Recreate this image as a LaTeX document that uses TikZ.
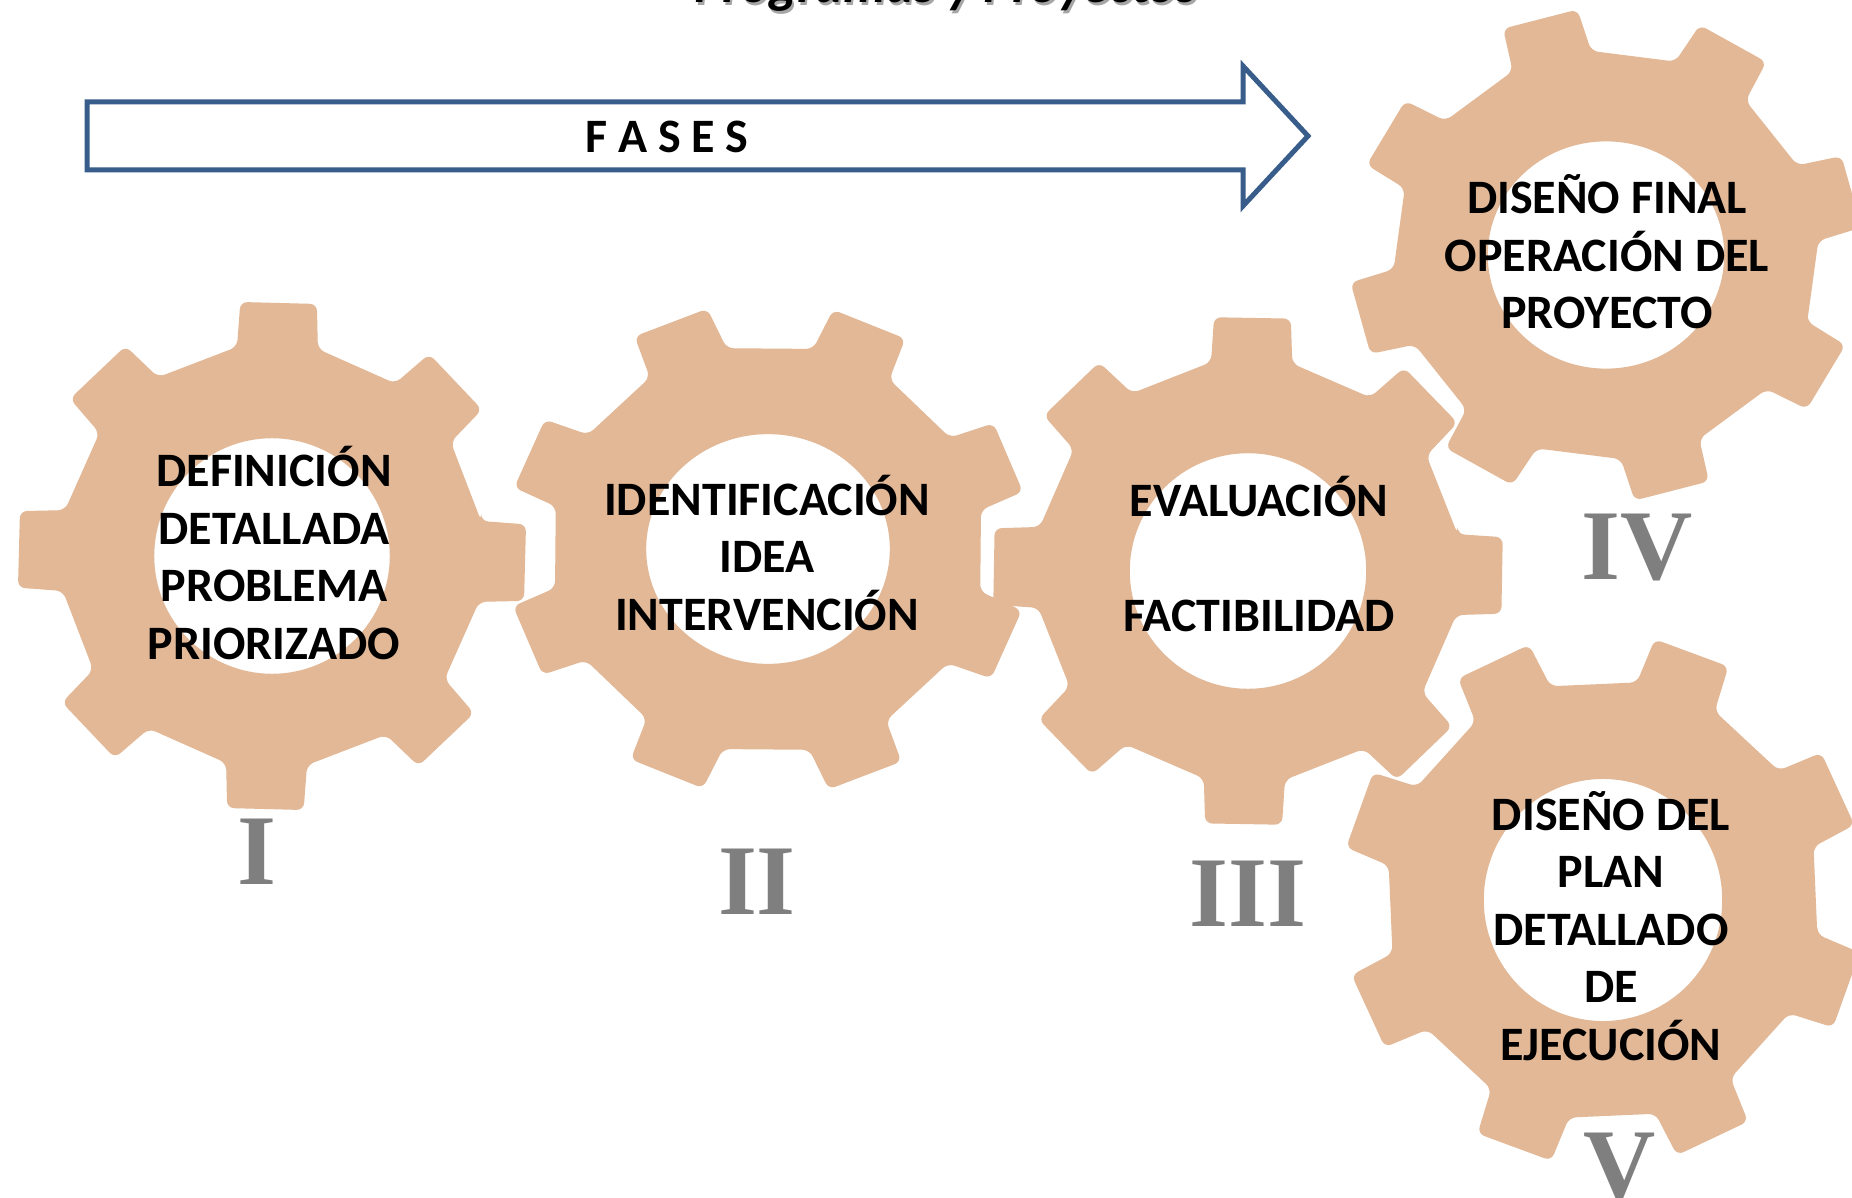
\documentclass[tikz,border=0pt]{standalone}
\usepackage{fontspec}
\setmainfont{Carlito}
\newfontfamily\romanfont{Liberation Serif}
\usepackage{tikz}
\definecolor{cobre}{RGB}{226,184,150}
\definecolor{azulfase}{RGB}{56,93,138}
\definecolor{grisnum}{RGB}{127,127,127}
\tikzset{
  rueda/.style={fill=cobre,even odd rule,rounded corners=7pt},
  etiqueta/.style={inner sep=0pt,align=center,font=\fontsize{48}{57.5}\selectfont\bfseries},
  numero/.style={inner sep=0pt,anchor=base,text=grisnum,font=\fontsize{100}{100}\selectfont\romanfont\bfseries}
}

\begin{document}
\begin{tikzpicture}[x=1pt,y=-1pt]

 \path[use as bounding box,clip] (0,0) rectangle (1852,1198);
 \fill[white] (0,0) rectangle (1852,1198);

% the title is cut by the top edge
\node[inner sep=0pt,anchor=base,text=black!35,font=\fontsize{53}{53}\selectfont\bfseries\itshape] (titulosombra) at (948,6) {Programas y Proyectos};
\node[inner sep=0pt,anchor=base,text=black,font=\fontsize{53}{53}\selectfont\bfseries\itshape] (titulo) at (946,3) {Programas y Proyectos};

 \draw[azulfase, line width=5pt] (87,102)--(1243,102)--(1243,66)--(1308,136)--(1243,206)--(1243,170)--(87,170)--cycle; % la flecha
\node[etiqueta] (fases) at (667,137) {F A S E S};

% centre x / centre y / radius x / radius y / turn / hole
\foreach \cx/\cy/\rx/\ry/\giro/\hueco in {272/556/256/256/1.5/.46, 768/549/262/247/23/.465, 1248/571/257/256/1/.46,
	1606/255/257/247/30/.46, 1603/900/262/266/20/.455}{
  \begin{scope}[shift={(\cx,\cy)},xscale=\rx/256,yscale=\ry/256]
    \fill[rueda] ({\giro-11}:212) \foreach \t in {0,45,...,315}{
      -- ({\t+\giro-11}:212) -- ({\t+\giro-8.6}:256) -- ({\t+\giro+8.6}:256) -- ({\t+\giro+11}:212)
    } -- cycle (0,0) circle (256*\hueco);
  \end{scope}
}

\node[etiqueta] (definicion) at (274,553) {DEFINICIÓN\\DETALLADA\\PROBLEMA\\PRIORIZADO};
\node[etiqueta] (identificacion) at (767,553) {IDENTIFICACIÓN\\IDEA\\INTERVENCIÓN};
\node[etiqueta] (evaluacion) at (1259,554) {EVALUACIÓN\\~\\FACTIBILIDAD};
\node[etiqueta] (disenofinal) at (1607,252) {DISEÑO FINAL\\OPERACIÓN DEL\\PROYECTO};
\node[etiqueta] (disenoplan) at (1611,926) {DISEÑO DEL\\PLAN\\DETALLADO\\DE\\EJECUCIÓN};

\node[numero] (numi) at (257,884) {I};
\node[numero] (numii) at (757,914) {II};
\node[numero] (numiii) at (1248,926) {III};
\node[numero] (numiv) at (1637,579) {IV};
\node[numero] (numv) at (1620,1198) {V};

\end{tikzpicture}
\end{document}
